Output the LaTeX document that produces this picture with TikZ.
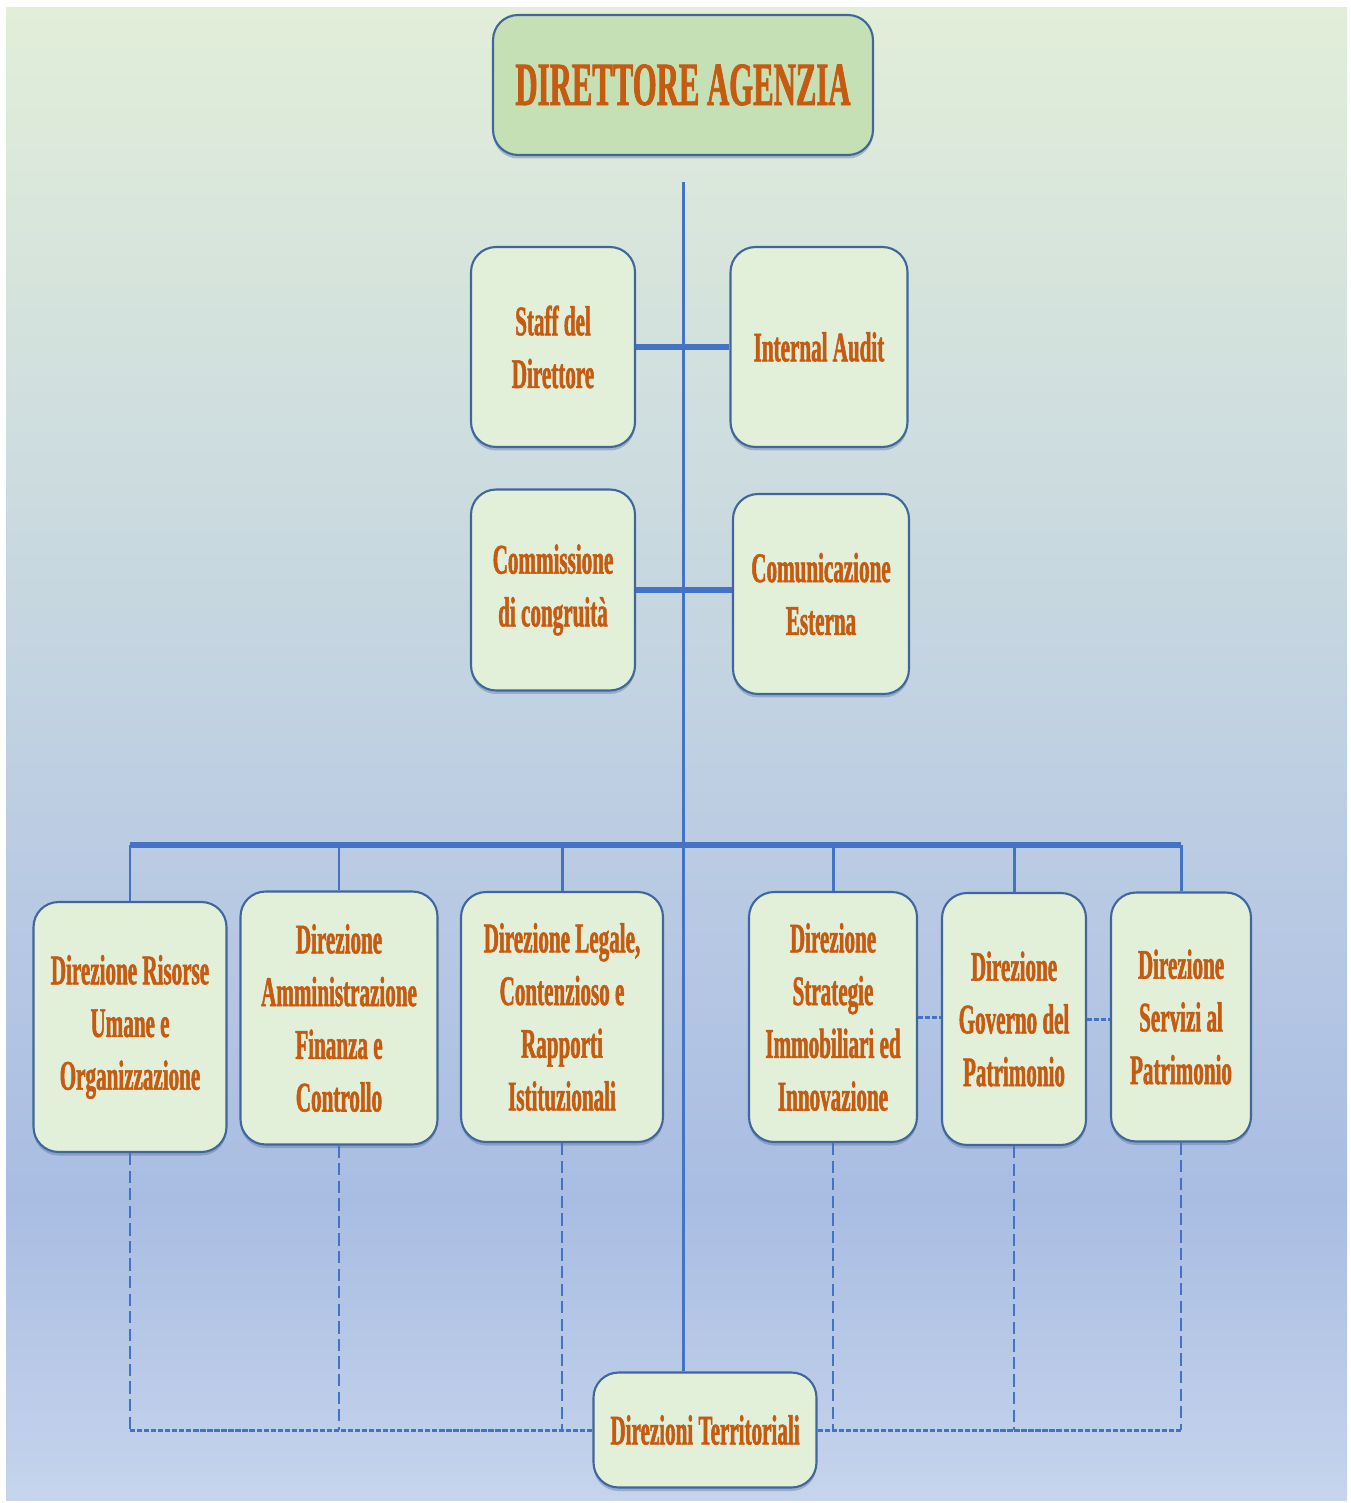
\documentclass[tikz,border=0pt]{standalone}
\usepackage{fontspec}
\newfontfamily\orgfont[FakeStretch=0.5,FakeBold=1.2]{Liberation Serif}
\usetikzlibrary{calc}
\usetikzlibrary{shadows}
\definecolor{fondA}{HTML}{E2EED9}
\definecolor{fondB}{HTML}{D0DFDE}
\definecolor{fondC}{HTML}{BDCEE3}
\definecolor{fondD}{HTML}{A9BDE3}
\definecolor{fondE}{HTML}{C6D4EC}
\definecolor{boitevert}{HTML}{E2EFD9}
\definecolor{titrevert}{HTML}{C5E0B4}
\definecolor{bordbleu}{HTML}{41679A}
\definecolor{lignebleu}{HTML}{4472C4}
\definecolor{texteorange}{HTML}{C55A11}
\tikzset{ %styles de l'organigramme
    boite/.style={draw=bordbleu, line width=1.2pt, fill=boitevert,
        rounded corners=0.5cm, align=center, text=texteorange,
        font=\orgfont\bfseries\fontsize{24}{30}\selectfont,
        drop shadow={shadow xshift=0pt, shadow yshift=-2pt, opacity=0.35, fill=bordbleu}},
    lien/.style={draw=lignebleu, line width=1.7pt},
    lienfort/.style={draw=lignebleu, line width=3.6pt},
    pointille/.style={draw=lignebleu, line width=1pt, dash pattern=on 7pt off 3pt},
    pointilledense/.style={draw=lignebleu, line width=1.7pt, dash pattern=on 3pt off 1pt}
}
\begin{document}
\begin{tikzpicture}[x=0.02cm, y=-0.02cm]
            \useasboundingbox (0,0) rectangle (1350,1503);
            \shade[top color=fondA, bottom color=fondB] (6,8) rectangle (1347,401);
            \shade[top color=fondB, bottom color=fondC] (6,400) rectangle (1347,801);
            \shade[top color=fondC, bottom color=fondD] (6,800) rectangle (1347,1201);
            \shade[top color=fondD, bottom color=fondE] (6,1200) rectangle (1347,1500);
            \node[boite, fill=titrevert, font=\orgfont\bfseries\fontsize{35}{42}\selectfont,
                minimum width=7.6cm, minimum height=2.8cm] (DA) at (683,85) {DIRETTORE AGENZIA};
            \node[boite, minimum width=3.28cm, minimum height=4cm] (SD) at (553,347) {Staff del\\Direttore};
            \node[boite, minimum width=3.54cm, minimum height=4cm] (IA) at (819,347) {Internal Audit};
            \node[boite, minimum width=3.28cm, minimum height=4.02cm] (CC) at (553,590) {Commissione\\di congruità};
            \node[boite, minimum width=3.52cm, minimum height=4cm] (CE) at (821,594) {Comunicazione\\Esterna};
            \node[boite, minimum width=3.86cm, minimum height=5cm] (D1) at (130,1027) {Direzione Risorse\\Umane e\\Organizzazione};
            \node[boite, minimum width=3.94cm, minimum height=5.06cm] (D2) at (339,1018) {Direzione\\Amministrazione\\Finanza e\\Controllo};
            \node[boite, minimum width=4.04cm, minimum height=5cm] (D3) at (562,1017) {Direzione Legale,\\Contenzioso e\\Rapporti\\Istituzionali};
            \node[boite, minimum width=3.36cm, minimum height=5cm] (D4) at (833,1017) {Direzione\\Strategie\\Immobiliari ed\\Innovazione};
            \node[boite, minimum width=2.88cm, minimum height=5.04cm] (D5) at (1014,1019) {Direzione\\Governo del\\Patrimonio};
            \node[boite, minimum width=2.8cm, minimum height=4.98cm] (D6) at (1181,1017) {Direzione\\Servizi al\\Patrimonio};
            \node[boite, minimum width=4.46cm, minimum height=2.3cm] (DT) at (705,1430) {Direzioni Territoriali};
            \coordinate (haut) at (683,182);
            \coordinate (barre) at (683,845);
            \draw[lien] (haut) -- (DT.north -| haut);
            \draw[lienfort] (SD.east) -- (IA.west);
            \draw[lienfort] (CC.east) -- (CC.east -| CE.west);
            \draw[lienfort] (D1.north |- barre) -- (D6.north |- barre);
            \foreach \d in {D1,D2,D3,D4,D5,D6}
                \draw[lien] (\d.north |- barre) -- (\d.north);
            \foreach \d in {D1,D2,D3,D4,D5,D6}
                \draw[pointille] (\d.south) -- (\d.south |- DT.west);
            \draw[pointilledense] (D1.south |- DT.west) -- (DT.west);
            \draw[pointilledense] (DT.east) -- (D6.south |- DT.east);
            \draw[pointilledense] (D4.east) -- (D4.east -| D5.west);
            \draw[pointilledense] (D5.east) -- (D5.east -| D6.west);
        \end{tikzpicture}
\end{document}
